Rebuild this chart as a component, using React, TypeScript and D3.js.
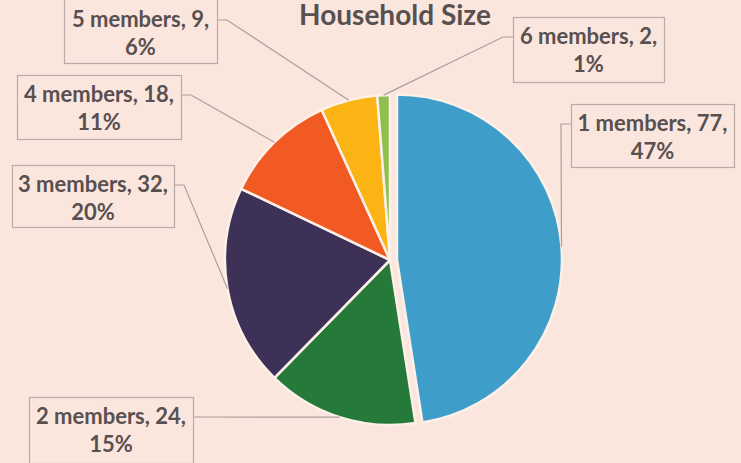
import React from 'react';
import * as d3 from 'd3';

const title = 'Household Size';
const categories = ['1 members', '2 members', '3 members', '4 members', '5 members', '6 members'];
const values = [77, 24, 32, 18, 9, 2];
const percentLabels = ['47%', '15%', '20%', '11%', '6%', '1%'];
const colors = ['#3f9dca', '#257a3a', '#3d3158', '#f25a23', '#fbb413', '#8fbf4f'];

// label box layout (x, y, width, height, side where the leader attaches)
const labelLayout = [
  { x: 571, y: 104, w: 163, h: 63, side: 'left' },
  { x: 29, y: 397, w: 164, h: 66, side: 'right' },
  { x: 12, y: 165, w: 162, h: 62, side: 'right' },
  { x: 17, y: 75, w: 164, h: 64, side: 'right' },
  { x: 64, y: -2, w: 153, h: 65, side: 'right' },
  { x: 513, y: 17, w: 151, h: 65, side: 'left' },
];

const W = 741;
const H = 463;
const CX = 390;
const CY = 260;
const R = 165;
const EXPLODE = [7, 0, 0, 0, 0, 0];

export default function App() {
  const pie = d3.pie<number>().sort(null).value((d) => d).startAngle(0).endAngle(2 * Math.PI);
  const arcs = pie(values);
  const arc = d3.arc<d3.PieArcDatum<number>>().innerRadius(0).outerRadius(R);
  const textColor = '#585050';
  const font = 'Lato, Carlito, "Open Sans", sans-serif';

  return (
    <svg width={W} height={H} style={{ position: 'fixed', left: 0, top: 0 }} xmlns="http://www.w3.org/2000/svg">
      <rect x={0} y={0} width={W} height={H} fill="#fbe6de" />
      <text x={395} y={25} textAnchor="middle" fontFamily={font} fontWeight={700} fontSize={28} fill={textColor}>
        {title}
      </text>
      <g transform={`translate(${CX},${CY})`}>
        {arcs.map((a, i) => {
          const mid = (a.startAngle + a.endAngle) / 2;
          const ox = Math.sin(mid) * EXPLODE[i];
          const oy = -Math.cos(mid) * EXPLODE[i];
          return (
            <path
              key={i}
              d={arc(a) || ''}
              transform={`translate(${ox},${oy})`}
              fill={colors[i]}
              stroke="#fdf0e8"
              strokeWidth={2.5}
              strokeLinejoin="round"
            />
          );
        })}
      </g>
      {arcs.map((a, i) => {
        const L = labelLayout[i];
        const mid = (a.startAngle + a.endAngle) / 2;
        const rr = R + EXPLODE[i];
        const ex = CX + Math.sin(mid) * rr;
        const ey = CY - Math.cos(mid) * rr;
        const ay = L.y + 20 + (L.y < 0 ? 2 : 0);
        const ax = L.side === 'left' ? L.x : L.x + L.w;
        const bx = L.side === 'left' ? L.x - 10 : L.x + L.w + 10;
        const cxText = L.x + L.w / 2;
        const top = L.y < 0 ? 0 : L.y;
        return (
          <g key={i}>
            <polyline
              points={`${ax},${ay} ${bx},${ay} ${ex},${ey}`}
              fill="none"
              stroke="#ab9f9b"
              strokeWidth={1.2}
            />
            <rect x={L.x + 0.5} y={L.y + 0.5} width={L.w} height={L.h} fill="#fbe6de" stroke="#b9aca8" strokeWidth={1.2} />
            <text x={cxText} y={top + 27} textAnchor="middle" fontFamily={font} fontWeight={700} fontSize={22} fill={textColor}>
              {`${categories[i]}, ${values[i]},`}
            </text>
            <text x={cxText} y={top + 55} textAnchor="middle" fontFamily={font} fontWeight={700} fontSize={22} fill={textColor}>
              {percentLabels[i]}
            </text>
          </g>
        );
      })}
    </svg>
  );
}
